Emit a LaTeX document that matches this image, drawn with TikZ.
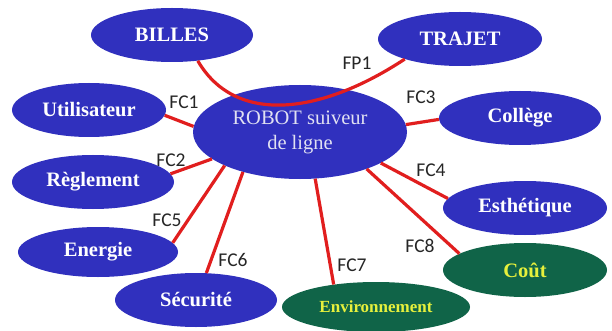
\documentclass[tikz,border=0pt]{standalone}
\usepackage{fontspec}
\setmainfont{Liberation Serif}
\newfontfamily\labfont{Carlito}
\usetikzlibrary{shapes.geometric}
\definecolor{ellblue}{RGB}{48,48,190}
\definecolor{ellgreen}{RGB}{16,100,72}
\definecolor{linkred}{RGB}{225,30,30}
\definecolor{txtyellow}{RGB}{230,240,60}
\definecolor{robottxt}{RGB}{225,225,242}
\tikzset{
  ell/.style={ellipse, inner sep=0pt, font=\fontsize{20.5}{23}\selectfont\bfseries},
  blueell/.style={ell, fill=ellblue, text=white},
  greenell/.style={ell, fill=ellgreen, text=txtyellow},
  link/.style={draw=linkred, line width=3.2pt},
  lab/.style={font=\labfont\fontsize{19.5}{21}\selectfont, text=black!85, inner sep=0pt}
}
\begin{document}
\begin{tikzpicture}[x=1pt,y=-1pt]
\useasboundingbox[fill=white] (0,0) rectangle (612,331);
% nodes
\node[blueell, minimum width=162pt, minimum height=54pt] (billes) at (172,35) {BILLES};
\node[blueell, minimum width=164pt, minimum height=54pt] (trajet) at (460,39) {TRAJET};
\node[blueell, minimum width=154pt, minimum height=54pt] (util) at (89,110) {Utilisateur};
\node[blueell, minimum width=162pt, minimum height=54pt] (college) at (520,118) {Collège};
\node[blueell, minimum width=162pt, minimum height=54pt] (regl) at (93,182) {Règlement};
\node[blueell, minimum width=160pt, minimum height=50pt] (energie) at (98,252) {Energie};
\node[blueell, minimum width=162pt, minimum height=54pt] (secu) at (196,300) {Sécurité};
\node[blueell, minimum width=164pt, minimum height=54pt] (esth) at (525,208) {Esthétique};
\node[greenell, minimum width=164pt, minimum height=54pt] (cout) at (525,270) {Coût};
\node[greenell, minimum width=188pt, minimum height=50pt, font=\fontsize{17}{19}\selectfont\bfseries] (env) at (376,307) {Environnement};
\node[ellipse, inner sep=0pt, fill=ellblue, text=robottxt, minimum width=214pt, minimum height=94pt,
      align=center, font=\fontsize{20.5}{25}\selectfont] (robot) at (300,132) {ROBOT suiveur\\de ligne};
% connectors
\draw[link] (billes.-45) .. controls (235,125) and (320,115) .. (trajet.200);
\draw[link] (robot.177) -- (util.-4);
\draw[link] (robot.197) -- (regl.6);
\draw[link] (robot.204) -- (energie.7);
\draw[link] (robot.215) -- (secu.69);
\draw[link] (robot.288) -- (env.152);
\draw[link] (robot.331) -- (cout.166);
\draw[link] (robot.339) -- (esth.173);
\draw[link] (robot.4) -- (college.181);
% labels
\node[lab] (fp1) at (357,63) {FP1};
\node[lab] (fc1) at (184,102) {FC1};
\node[lab] (fc2) at (171,160) {FC2};
\node[lab] (fc3) at (421,97) {FC3};
\node[lab] (fc4) at (431,170) {FC4};
\node[lab] (fc5) at (167,220) {FC5};
\node[lab] (fc6) at (233,260) {FC6};
\node[lab] (fc7) at (352,265) {FC7};
\node[lab] (fc8) at (420,246) {FC8};
\end{tikzpicture}
\end{document}
